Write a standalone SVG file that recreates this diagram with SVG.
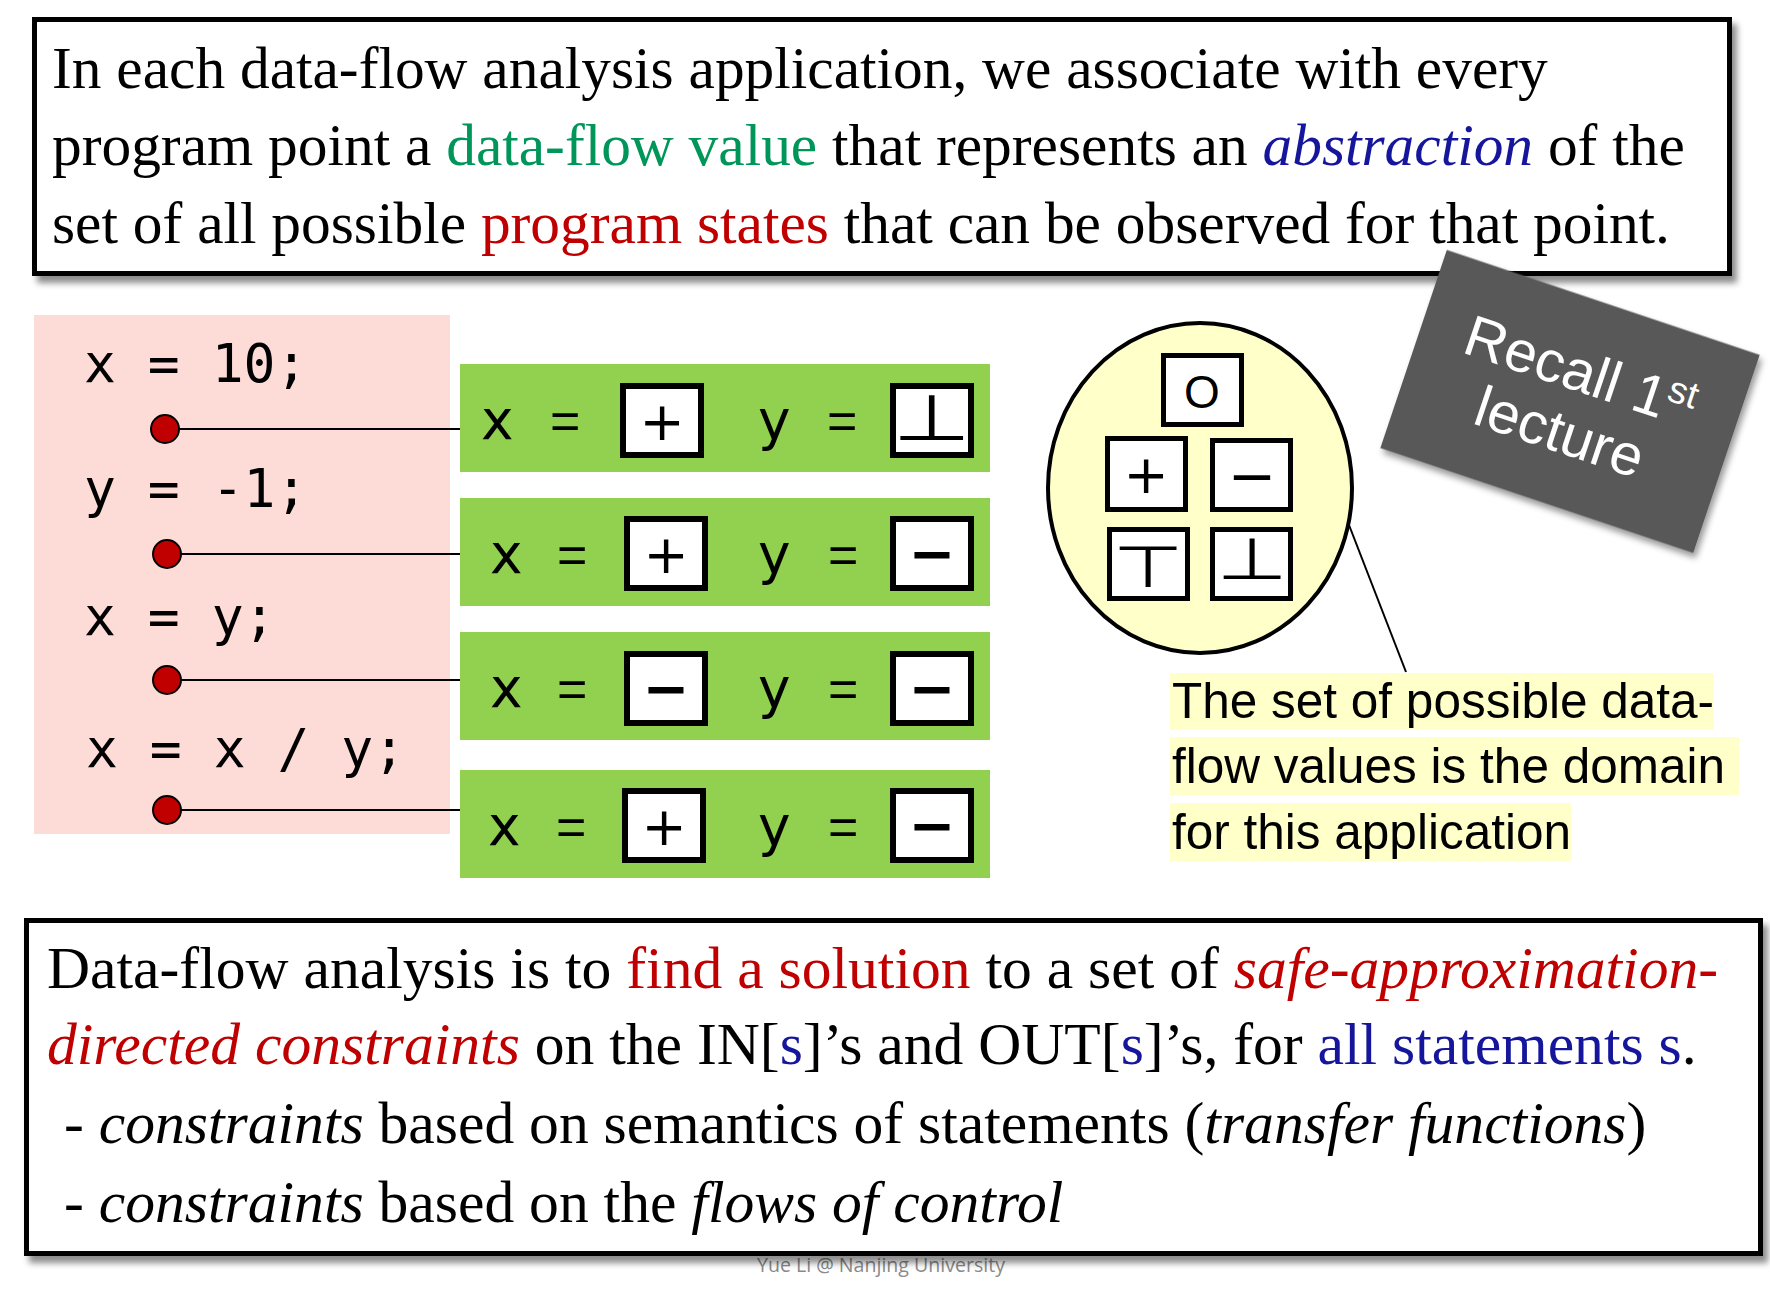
<svg xmlns="http://www.w3.org/2000/svg" width="1770" height="1293" viewBox="0 0 1770 1293">
<defs>
<filter id="sh" x="-5%" y="-10%" width="115%" height="130%">
<feDropShadow dx="5" dy="7" stdDeviation="3" flood-color="#000" flood-opacity="0.45"/>
</filter>
<filter id="sh2" x="-10%" y="-10%" width="125%" height="125%">
<feDropShadow dx="4" dy="4" stdDeviation="3" flood-color="#000" flood-opacity="0.4"/>
</filter>
<style>
.serif{font-family:"Liberation Serif","Times New Roman",serif;font-size:59.4px;fill:#000}
.serifb{font-family:"Liberation Serif","Times New Roman",serif;font-size:59.6px;fill:#000}
.it{font-style:italic}
.red{fill:#C00000}
.grn{fill:#00965A}
.blu{fill:#16169C}
.box{fill:#fff;stroke:#000;stroke-width:5}
.code{font-family:"DejaVu Sans Mono","Liberation Mono",monospace;font-size:53px;fill:#000}
.gtxt{font-family:"DejaVu Sans","Liberation Sans",sans-serif;font-size:55px;fill:#000}
.eq{font-family:"Liberation Sans",Arial,sans-serif;font-size:52px;fill:#000}
.sym{font-family:"DejaVu Sans","Liberation Sans",sans-serif;fill:#000;text-anchor:middle}
.green{fill:#92D050}
.vbox{fill:#fff;stroke:#000;stroke-width:6}
.ebox{fill:#fff;stroke:#000;stroke-width:5}
.dot{fill:#C00000;stroke:#000;stroke-width:2}
.conn{stroke:#000;stroke-width:2;fill:none}
.lbl{font-family:"Liberation Sans",Arial,sans-serif;font-size:49.5px;fill:#000}
.hl{fill:#FFFFC9}
</style>
</defs>

<!-- watermark -->
<text x="757" y="1272" font-family="'Open Sans','DejaVu Sans',sans-serif" font-size="20" fill="#8a8a8a" textLength="248" lengthAdjust="spacingAndGlyphs">Yue Li @ Nanjing University</text>

<g id="top-box">
<rect x="34.5" y="19.5" width="1695" height="254" class="box" filter="url(#sh)"/>
<text class="serif" x="52" y="88">In each data-flow analysis application, we associate with every</text>
<text class="serif" x="52" y="165">program point a <tspan class="grn">data-flow value</tspan> that represents an <tspan class="it blu">abstraction</tspan> of the</text>
<text class="serif" x="52" y="243">set of all possible <tspan class="red">program states</tspan> that can be observed for that point.</text>
</g>

<g id="recall-note" transform="translate(1570,401.5) rotate(18.55)">
<rect x="-165" y="-104.5" width="330" height="209" fill="#595959" filter="url(#sh2)"/>
<text x="0" y="-12" text-anchor="middle" font-family="'Liberation Sans',Arial,sans-serif" font-size="58" fill="#fff">Recall 1<tspan font-size="38" dy="-20">st</tspan></text>
<text x="0" y="52" text-anchor="middle" font-family="'Liberation Sans',Arial,sans-serif" font-size="58" fill="#fff">lecture</text>
</g>

<g id="code-panel">
<rect x="34" y="315" width="416" height="519" fill="#FDDCD8"/>
<text class="code" x="84" y="382">x = 10;</text>
<text class="code" x="84" y="507">y = -1;</text>
<text class="code" x="84" y="635">x = y;</text>
<text class="code" x="86" y="767">x = x / y;</text>
</g>

<g id="connectors">
<line class="conn" x1="170" y1="429" x2="462" y2="429"/>
<line class="conn" x1="172" y1="554" x2="462" y2="554"/>
<line class="conn" x1="172" y1="680" x2="462" y2="680"/>
<line class="conn" x1="172" y1="810" x2="462" y2="810"/>
<line class="conn" x1="1349" y1="525" x2="1406" y2="672"/>
</g>

<g id="point-1">
<circle class="dot" cx="165" cy="429" r="14"/>
</g>
<g id="point-2">
<circle class="dot" cx="167" cy="554" r="14"/>
</g>
<g id="point-3">
<circle class="dot" cx="167" cy="680" r="14"/>
</g>
<g id="point-4">
<circle class="dot" cx="167" cy="810" r="14"/>
</g>

<g id="state-1">
<rect class="green" x="460" y="364" width="530" height="108"/>
<text class="gtxt" x="481" y="439">x</text>
<text class="eq" x="550" y="439">=</text>
<text class="gtxt" x="758" y="439">y</text>
<text class="eq" x="827" y="439">=</text>
<rect class="vbox" x="623" y="386" width="78" height="69"/>
<rect class="vbox" x="893" y="386" width="78" height="69"/>
<text class="sym" x="662" y="440" font-size="54">+</text>
<text class="sym" transform="translate(932,440) scale(1.4,1)" x="0" y="0" font-size="64">⊥</text>
</g>

<g id="state-2">
<rect class="green" x="460" y="498" width="530" height="108"/>
<text class="gtxt" x="490" y="573">x</text>
<text class="eq" x="557" y="573">=</text>
<text class="gtxt" x="758" y="573">y</text>
<text class="eq" x="828" y="573">=</text>
<rect class="vbox" x="627" y="519" width="78" height="69"/>
<rect class="vbox" x="893" y="519" width="78" height="69"/>
<text class="sym" x="666" y="573" font-size="54">+</text>
<text class="sym" x="932" y="573" font-size="56" font-weight="bold">−</text>
</g>

<g id="state-3">
<rect class="green" x="460" y="632" width="530" height="108"/>
<text class="gtxt" x="490" y="707">x</text>
<text class="eq" x="557" y="707">=</text>
<text class="gtxt" x="758" y="707">y</text>
<text class="eq" x="828" y="707">=</text>
<rect class="vbox" x="627" y="654" width="78" height="69"/>
<rect class="vbox" x="893" y="654" width="78" height="69"/>
<text class="sym" x="666" y="708" font-size="56" font-weight="bold">−</text>
<text class="sym" x="932" y="708" font-size="56" font-weight="bold">−</text>
</g>

<g id="state-4">
<rect class="green" x="460" y="770" width="530" height="108"/>
<text class="gtxt" x="488" y="845">x</text>
<text class="eq" x="556" y="845">=</text>
<text class="gtxt" x="758" y="845">y</text>
<text class="eq" x="828" y="845">=</text>
<rect class="vbox" x="625" y="791" width="78" height="69"/>
<rect class="vbox" x="893" y="791" width="78" height="69"/>
<text class="sym" x="664" y="845" font-size="54">+</text>
<text class="sym" x="932" y="845" font-size="56" font-weight="bold">−</text>
</g>

<g id="domain">
<ellipse cx="1200" cy="488" rx="152" ry="165" fill="#FFFFC9" stroke="#000" stroke-width="4"/>
<rect class="ebox" x="1163.5" y="355.5" width="78" height="69"/>
<rect class="ebox" x="1107.5" y="438.5" width="78" height="71"/>
<rect class="ebox" x="1212.5" y="440.5" width="78" height="69"/>
<rect class="ebox" x="1109.5" y="529.5" width="78" height="69"/>
<rect class="ebox" x="1212.5" y="529.5" width="78" height="69"/>
<text x="1202" y="408" text-anchor="middle" font-family="'Liberation Sans',Arial,sans-serif" font-size="46">O</text>
<text class="sym" x="1146" y="493" font-size="54">+</text>
<text class="sym" x="1252" y="496" font-size="58">−</text>
<text class="sym" transform="translate(1148,587) scale(1.4,1)" x="0" y="0" font-size="58">⊤</text>
<text class="sym" transform="translate(1252,579) scale(1.4,1)" x="0" y="0" font-size="58">⊥</text>
</g>

<g id="domain-label">
<rect class="hl" x="1170" y="673" width="544" height="57"/>
<rect class="hl" x="1170" y="737" width="569" height="58"/>
<rect class="hl" x="1170" y="803" width="401" height="58"/>
<text class="lbl" x="1172" y="718">The set of possible data-</text>
<text class="lbl" x="1172" y="783">flow values is the domain</text>
<text class="lbl" x="1172" y="849">for this application</text>
</g>

<g id="bottom-box">
<rect x="26.5" y="920.5" width="1734" height="333" class="box" filter="url(#sh)"/>
<text class="serifb" x="47" y="988">Data-flow analysis is to <tspan class="red">find a solution</tspan> to a set of <tspan class="red it">safe-approximation-</tspan></text>
<text class="serifb" x="47" y="1064"><tspan class="red it">directed constraints</tspan> on the IN[<tspan class="blu">s</tspan>]’s and OUT[<tspan class="blu">s</tspan>]’s, for <tspan class="blu">all statements s</tspan>.</text>
<text class="serifb" x="64" y="1143">- <tspan class="it">constraints</tspan> based on semantics of statements (<tspan class="it">transfer functions</tspan>)</text>
<text class="serifb" x="64" y="1222">- <tspan class="it">constraints</tspan> based on the <tspan class="it">flows of control</tspan></text>
</g>
</svg>
